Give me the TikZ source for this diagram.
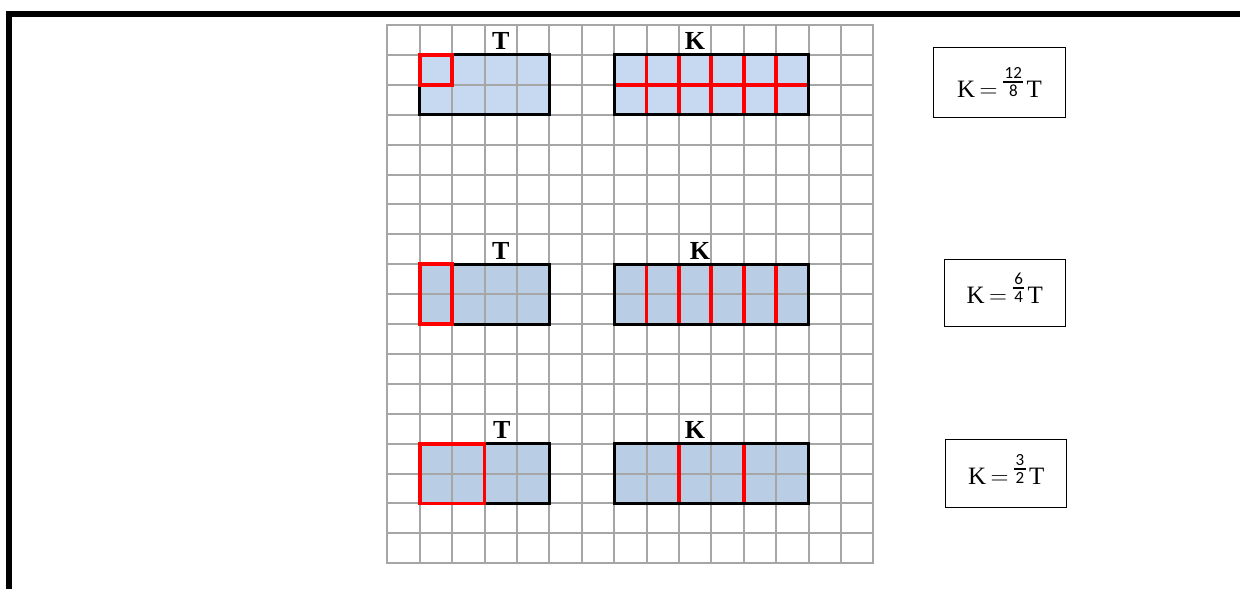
\documentclass[tikz,border=0pt]{standalone}
\usepackage{amsmath}
\usepackage{fontspec}
\setmainfont{Liberation Serif}
\newfontfamily\digfont{Carlito}
\definecolor{gridgray}{RGB}{166,166,166}
\definecolor{fillA}{RGB}{198,217,241}
\definecolor{fillB}{RGB}{185,205,229}
\newcommand{\eqfrac}[2]{\raisebox{9.2pt}{$\genfrac{}{}{2pt}{1}{\hbox{\kern1.5pt\digfont\fontsize{17}{17}\selectfont #1\kern1.5pt}}{\hbox{\digfont\fontsize{17}{17}\selectfont #2}}$}}
\newcommand{\eqtext}[2]{K\hspace{4.5pt}$=$\hspace{4.5pt}\eqfrac{#1}{#2}\hspace{2pt}T}
\begin{document}
\begin{tikzpicture}[x=1pt,y=-1pt,
  eqbox/.style={draw=black, line width=0.9pt, inner sep=0pt, font=\fontsize{25}{29}\selectfont},
  lbl/.style={font=\fontsize{26}{26}\selectfont\bfseries, inner sep=0pt},
  gridln/.style={draw=gridgray, line width=2pt},
  blk/.style={draw=black, line width=3pt},
  redln/.style={draw=red, line width=3.8pt}]
\useasboundingbox (0,0) rectangle (1240,589);
\draw[line width=6pt] (9,589) -- (9,14) -- (1240,14);
\begin{scope}[shift={(387.3,25)}, x=32.4pt, y=-29.9pt]
  % fills
  \fill[fillA] (1,1) rectangle (5,3);
  \fill[fillA] (7,1) rectangle (13,3);
  \fill[fillB] (1,8) rectangle (5,10);
  \fill[fillB] (7,8) rectangle (13,10);
  \fill[fillB] (1,14) rectangle (5,16);
  \fill[fillB] (7,14) rectangle (13,16);
  % grid
  \foreach \i in {0,...,15} \draw[gridln] (\i,0) -- (\i,18);
  \foreach \j in {0,...,18} \draw[gridln] (0,\j) -- (15,\j);
  \draw[gridln] (0,0) rectangle (15,18);
  % red divisions of K
  \foreach \i in {8,...,12} \draw[redln] (\i,1) -- (\i,3);
  \draw[redln] (7,2) -- (13,2);
  \foreach \i in {8,...,12} \draw[redln] (\i,8) -- (\i,10);
  \foreach \i in {9,11} \draw[redln] (\i,14) -- (\i,16);
  % black outlines
  \draw[blk] (1,1) rectangle (5,3);
  \draw[blk] (7,1) rectangle (13,3);
  \draw[blk] (1,8) rectangle (5,10);
  \draw[blk] (7,8) rectangle (13,10);
  \draw[blk] (1,14) rectangle (5,16);
  \draw[blk] (7,14) rectangle (13,16);
  % red units of T
  \draw[redln] (1,1) rectangle (2,2);
  \draw[redln] (1,8) rectangle (2,10);
  \draw[redln] (1,14) rectangle (3,16);
  % labels
  \node[lbl] (t1) at (3.5,0.55) {T};
  \node[lbl] (k1) at (9.5,0.55) {K};
  \node[lbl] (t2) at (3.5,7.55) {T};
  \node[lbl] (k2) at (9.65,7.55) {K};
  \node[lbl] (t3) at (3.53,13.55) {T};
  \node[lbl] (k3) at (9.5,13.55) {K};
\end{scope}
\node[eqbox, minimum width=132.4pt, minimum height=70pt, text height=34pt, text depth=4pt] (e1) at (999.5,82.3) {\eqtext{12}{8}};
\node[eqbox, minimum width=121.7pt, minimum height=66.7pt, text height=25pt, text depth=3.8pt] (e2) at (1004.8,292.7) {\eqtext{6}{4}};
\node[eqbox, minimum width=121pt, minimum height=68.4pt, text height=25pt, text depth=3.4pt] (e3) at (1006.2,473.5) {\eqtext{3}{2}};
\end{tikzpicture}
\end{document}
